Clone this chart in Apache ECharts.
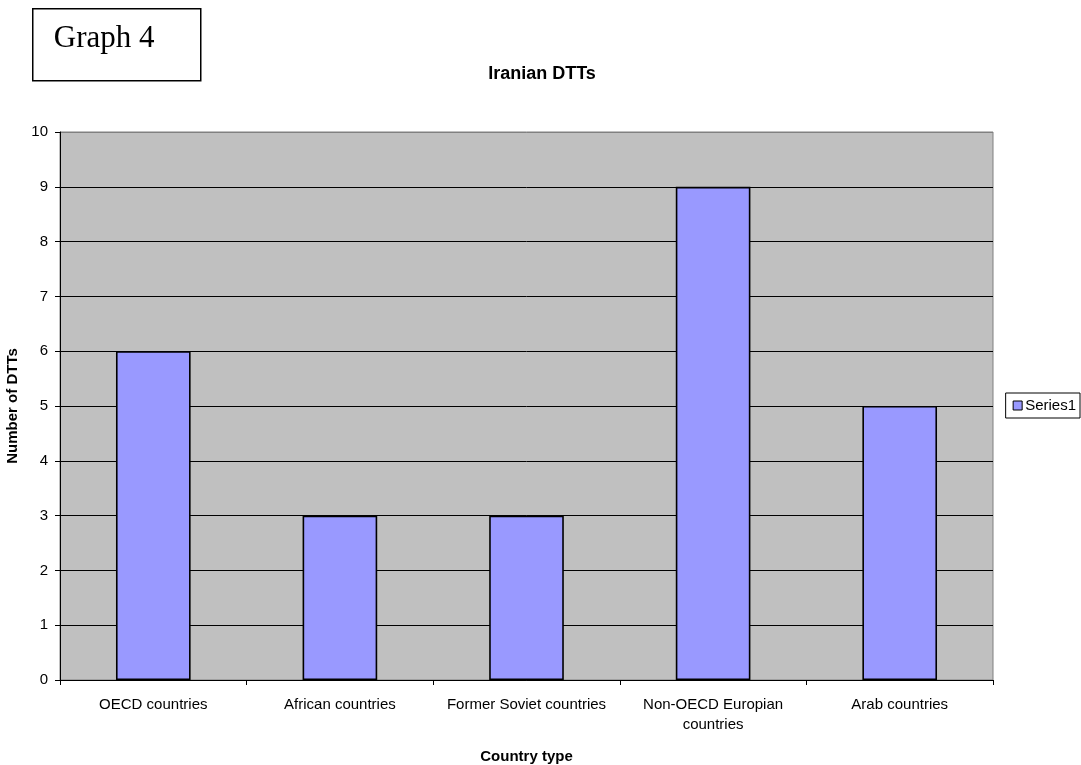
<!DOCTYPE html>
<html>
<head>
<meta charset="utf-8">
<title>Iranian DTTs</title>
<script src="https://cdn.jsdelivr.net/npm/echarts@6/dist/echarts.min.js"></script>
<style>
  html, body { margin: 0; padding: 0; background: #ffffff; }
  #chart { width: 1081px; height: 765px; }
</style>
</head>
<body>
<div id="chart"></div>
<script>
// Number of double taxation treaties by partner country group
const categories = ['OECD countries', 'African countries', 'Former Soviet countries', 'Non-OECD Europian\ncountries', 'Arab countries'];
const series1 = [6, 3, 3, 9, 5];
const yTicks = [0, 1, 2, 3, 4, 5, 6, 7, 8, 9, 10];

const FONT = '"Liberation Sans", Arial, sans-serif';

// grid lines are black, the top edge (max value) stays grey like the frame
const splitColors = yTicks.map((v, i) => (i === yTicks.length - 1 ? '#808080' : '#000000'));

const chart = echarts.init(document.getElementById('chart'), null, { renderer: 'canvas' });

chart.setOption({
  animation: false,
  backgroundColor: '#ffffff',
  textStyle: { fontFamily: FONT },
  title: {
    text: 'Iranian DTTs',
    left: 537,
    top: 60,
    textAlign: 'center',
    textStyle: { fontFamily: FONT, fontSize: 18, fontWeight: 'bold', color: '#000' }
  },
  legend: {
    show: true,
    right: 1,
    top: 393,
    orient: 'vertical',
    data: ['Series1'],
    itemWidth: 9,
    itemHeight: 9,
    itemGap: 4,
    padding: [5, 4, 5, 7],
    borderColor: '#000',
    borderWidth: 1,
    backgroundColor: '#fff',
    icon: 'rect',
    itemStyle: { borderColor: '#000', borderWidth: 1 },
    textStyle: { fontFamily: FONT, fontSize: 15, color: '#000', padding: [0, 0, 0, -2] }
  },
  grid: {
    left: 60,
    right: 88,
    top: 132,
    bottom: 85,
    outerBoundsMode: 'none',
    show: true,
    backgroundColor: '#C0C0C0',
    borderColor: '#808080',
    borderWidth: 1,
    containLabel: false
  },
  xAxis: {
    type: 'category',
    data: categories,
    name: 'Country type',
    nameLocation: 'middle',
    nameGap: 69,
    nameTextStyle: { fontFamily: FONT, fontSize: 15, fontWeight: 'bold', color: '#000' },
    axisLine: { show: true, lineStyle: { color: '#000', width: 1 } },
    axisTick: { show: true, alignWithLabel: false, length: 5, lineStyle: { color: '#000' } },
    axisLabel: {
      interval: 0,
      margin: 15,
      fontFamily: FONT,
      fontSize: 15,
      color: '#000',
      lineHeight: 20,
      align: 'center'
    },
    splitLine: { show: false }
  },
  yAxis: {
    type: 'value',
    min: yTicks[0],
    max: yTicks[yTicks.length - 1],
    interval: 1,
    name: 'Number of DTTs',
    nameLocation: 'middle',
    nameGap: 38,
    nameTextStyle: { fontFamily: FONT, fontSize: 15, fontWeight: 'bold', color: '#000' },
    axisLine: { show: true, lineStyle: { color: '#000', width: 1 } },
    axisTick: { show: true, length: 5, lineStyle: { color: '#000' } },
    axisLabel: { margin: 12, fontFamily: FONT, fontSize: 15, color: '#000' },
    splitLine: { show: true, lineStyle: { color: splitColors, width: 1 } }
  },
  graphic: [
    {
      type: 'group',
      left: 32,
      top: 8,
      children: [
        {
          type: 'rect',
          shape: { x: 0, y: 0, width: 168, height: 72 },
          style: { fill: '#fff', stroke: '#000', lineWidth: 1.5 }
        },
        {
          type: 'text',
          x: 21,
          y: 30,
          style: {
            text: 'Graph 4',
            fontFamily: '"Liberation Serif", "Times New Roman", serif',
            fontSize: 31,
            fill: '#000',
            verticalAlign: 'middle'
          }
        }
      ]
    }
  ],
  series: [
    {
      name: 'Series1',
      type: 'bar',
      data: series1,
      barWidth: '40%',
      itemStyle: { color: '#9999FF', borderColor: '#000', borderWidth: 1.6 }
    }
  ]
});
</script>
</body>
</html>
